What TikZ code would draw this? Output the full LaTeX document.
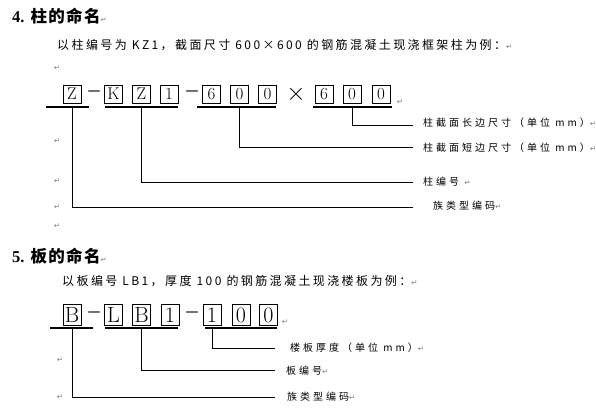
\documentclass[tikz,border=0pt]{standalone}
\usepackage{fontspec}
\usepackage{tikz}
\newfontfamily\cjk{Noto Sans CJK SC}[LetterSpace=20]
\newfontfamily\cjkhead{Noto Sans CJK SC}[LetterSpace=8]
\newfontfamily\cjklab{Noto Sans CJK SC}[LetterSpace=30]
\newfontfamily\cjkplain{Noto Sans CJK SC}
\newfontfamily\headnum{Liberation Serif}
\newfontfamily\symfont{DejaVu Sans}
\newcommand{\pmark}{{\symfont\fontsize{7.5}{7.5}\selectfont\color{gray}↵}}

\tikzset{
  cell/.style={draw=black,line width=0.6pt,minimum width=18pt,minimum height=18pt,inner sep=0pt,font=\fontsize{17}{17}\selectfont},
  bigcell/.style={cell,minimum height=21pt,font=\fontsize{22}{22}\selectfont},
  joiner/.style={inner sep=0pt,font=\cjkplain\fontsize{16}{16}\selectfont},
  bar/.style={line width=1.6pt},
  lead/.style={line width=0.8pt},
  note/.style={anchor=west,inner sep=0pt,font=\cjklab\fontsize{10}{10}\selectfont},
  para/.style={anchor=west,inner sep=0pt,font=\cjk\fontsize{12}{12}\selectfont},
  head/.style={anchor=west,inner sep=0pt,font=\fontsize{16.5}{16.5}\selectfont},
  pm/.style={inner sep=0pt,text=gray,font=\symfont\fontsize{7.5}{7.5}\selectfont}
}

\begin{document}
\begin{tikzpicture}[x=1pt,y=-1pt]
\useasboundingbox (0,0) rectangle (596,409);

% column
\node[head] (h4) at (12,16) {{\headnum\bfseries 4.}\hspace{6pt}{\cjkhead\bfseries 柱的命名}\pmark};
\node[para] (t4) at (57,45) {以柱编号为 KZ1，截面尺寸 600×600 的钢筋混凝土现浇框架柱为例：\pmark};

\node[cell] (c1) at (72,94) {Z};
\node[joiner] (d1) at (94,94) {－};
\node[cell] (c2) at (113.5,94) {K};
\node[cell] (c3) at (141.5,94) {Z};
\node[cell] (c4) at (169,94) {1};
\node[joiner] (d2) at (192,94) {－};
\node[cell] (c5) at (211.5,94) {6};
\node[cell] (c6) at (239.5,94) {0};
\node[cell] (c7) at (267.5,94) {0};
\node[inner sep=0pt,font=\fontsize{28}{28}\selectfont] (x1) at (296,94) {$\times$};
\node[cell] (c8) at (324,94) {6};
\node[cell] (c9) at (352,94) {0};
\node[cell] (c10) at (381,94) {0};

\coordinate (u1a) at (46,107); \coordinate (u1b) at (89,107);
\coordinate (u2a) at (105,107); \coordinate (u2b) at (178,107);
\coordinate (u3a) at (197,107); \coordinate (u3b) at (276,107);
\coordinate (u4a) at (313,107); \coordinate (u4b) at (392,107);
\draw[bar] (u1a) -- (u1b);
\draw[bar] (u2a) -- (u2b);
\draw[bar] (u3a) -- (u3b);
\draw[bar] (u4a) -- (u4b);

\coordinate (e1) at (413,125);
\coordinate (e2) at (413,147);
\coordinate (e3) at (413,182);
\coordinate (e4) at (413,207);
\draw[lead] (c9 |- u4a) |- (e1);
\draw[lead] (c6 |- u3a) |- (e2);
\draw[lead] (c3 |- u2a) |- (e3);
\draw[lead] (c1 |- u1a) |- (e4);

\node[note] (n1) at (423,123) {柱截面长边尺寸（单位 mm）\pmark};
\node[note] (n2) at (423,148) {柱截面短边尺寸（单位 mm）\pmark};
\node[note] (n3) at (423,182) {柱编号 \pmark};
\node[note] (n4) at (433,206) {族类型编码\pmark};

\node[pm] (p1) at (57,68) {↵};
\node[pm] (p2) at (400,102) {↵};
\node[pm] (p3) at (57,141) {↵};
\node[pm] (p4) at (57,181) {↵};
\node[pm] (p5) at (57,207) {↵};
\node[pm] (p6) at (57,226) {↵};

% slab
\node[head] (h5) at (12,256) {{\headnum\bfseries 5.}\hspace{6pt}{\cjkhead\bfseries 板的命名}\pmark};
\node[para] (t5) at (62,281) {以板编号 LB1，厚度 100 的钢筋混凝土现浇楼板为例：\pmark};

\node[bigcell] (b1) at (72,315) {B};
\node[joiner] (d3) at (94,315) {－};
\node[bigcell] (b2) at (113.5,315) {L};
\node[bigcell] (b3) at (141.5,315) {B};
\node[bigcell] (b4) at (170,315) {1};
\node[joiner] (d4) at (192,315) {－};
\node[bigcell] (b5) at (212,315) {1};
\node[bigcell] (b6) at (241,315) {0};
\node[bigcell] (b7) at (268.5,315) {0};

\coordinate (v1a) at (50,328); \coordinate (v1b) at (93,328);
\coordinate (v2a) at (105,328); \coordinate (v2b) at (178,328);
\coordinate (v3a) at (205,328); \coordinate (v3b) at (277,328);
\draw[bar] (v1a) -- (v1b);
\draw[bar] (v2a) -- (v2b);
\draw[bar] (v3a) -- (v3b);

\coordinate (f1) at (275,348);
\coordinate (f2) at (275,370);
\coordinate (f3) at (275,397);
\draw[lead] (b5 |- v3a) |- (f1);
\draw[lead] (b3 |- v2a) |- (f2);
\draw[lead] (b1 |- v1a) |- (f3);

\node[note] (m1) at (290,348) {楼板厚度（单位 mm）\pmark};
\node[note] (m2) at (286,371) {板编号\pmark};
\node[note] (m3) at (287,397) {族类型编码\pmark};

\node[pm] (q1) at (285,322) {↵};
\node[pm] (q2) at (60,360) {↵};
\node[pm] (q3) at (60,397) {↵};
\end{tikzpicture}
\end{document}
